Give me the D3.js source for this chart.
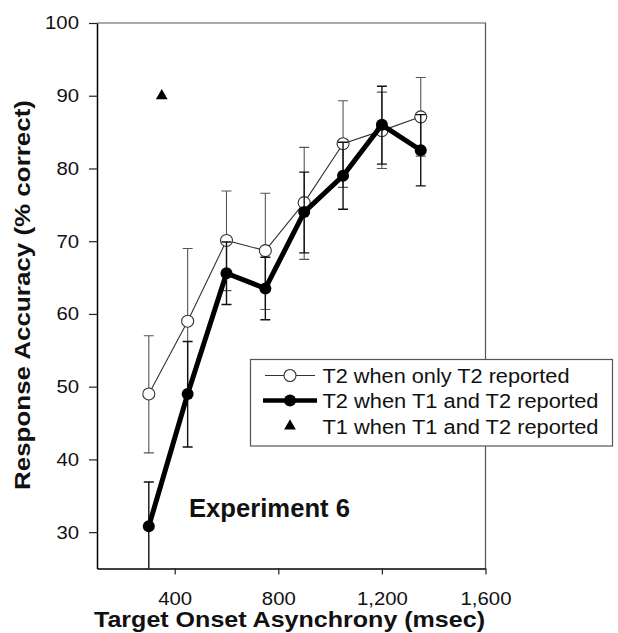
<!DOCTYPE html>
<html><head><meta charset="utf-8">
<script src="https://cdn.jsdelivr.net/npm/d3@7/dist/d3.min.js"></script>
<style>body{margin:0;background:#fff}svg{display:block;font-family:"Liberation Sans",Arial,Helvetica,sans-serif}</style>
</head><body><svg id="c" width="618" height="633"></svg>
<script>
// Data
const toa = [300, 450, 600, 750, 900, 1050, 1200, 1350];
const t2Only   = [49.0, 59.0, 70.1, 68.7, 75.3, 83.4, 85.2, 87.1];
const t2OnlyLo = [40.9, 49.0, 63.2, 60.6, 67.5, 77.4, 80.0, 81.7];
const t2OnlyHi = [57.0, 69.0, 76.9, 76.6, 82.9, 89.3, 90.5, 92.5];
const t2Both   = [30.8, 49.0, 65.6, 63.5, 74.0, 79.0, 86.0, 82.5];
const t2BothLo = [24.7, 41.7, 61.3, 59.2, 68.4, 74.4, 80.6, 77.6];
const t2BothHi = [36.9, 56.2, 69.9, 67.8, 79.5, 83.6, 91.3, 87.4];
const t1Toa = [350];
const t1Both = [90];
const xTicks = [400, 800, 1200, 1600];
const yTicks = [30, 40, 50, 60, 70, 80, 90, 100];
const legendLabels = ["T2 when only T2 reported", "T2 when T1 and T2 reported", "T1 when T1 and T2 reported"];
const xTitle = "Target Onset Asynchrony (msec)";
const yTitle = "Response Accuracy (% correct)";
const note = "Experiment 6";

const W = 618, H = 633;
const m = {l: 97, r: 132.5, t: 23, b: 64.5};
const svg = d3.select("#c");
const x = d3.scaleLinear().domain([100, 1600]).range([m.l, W - m.r]);
const y = d3.scaleLinear().domain([25, 100]).range([H - m.b, m.t]);

function stretch(sel, k) {
  sel.each(function(){ const L = this.getComputedTextLength(); d3.select(this).attr("textLength", L * k).attr("lengthAdjust", "spacingAndGlyphs"); });
}

svg.append("defs").append("clipPath").attr("id", "pc").append("rect")
  .attr("x", m.l).attr("y", m.t).attr("width", W - m.r - m.l).attr("height", H - m.b - m.t);

// frame top/right
svg.append("path").attr("d", `M${x(100)},${y(100)}H${x(1600)}V${y(25)}`).attr("fill", "none").attr("stroke", "#555").attr("stroke-width", 1.2);

// axes
const ax = svg.append("g").attr("transform", `translate(0,${y(25)})`)
  .call(d3.axisBottom(x).tickValues(xTicks).tickFormat(d3.format(",")).tickSize(6).tickPadding(17).tickSizeOuter(0));
const ay = svg.append("g").attr("transform", `translate(${x(100)},0)`)
  .call(d3.axisLeft(y).tickValues(yTicks).tickSize(8).tickPadding(10).tickSizeOuter(0));
[ax, ay].forEach(a => {
  a.select(".domain").attr("stroke", "#000").attr("stroke-width", 1.5);
  a.selectAll(".tick line").attr("stroke", "#222").attr("stroke-width", 1.2);
  a.selectAll(".tick text").attr("font-size", 18.5).attr("fill", "#111").attr("font-family", "Liberation Sans, Arial, sans-serif");
  stretch(a.selectAll(".tick text"), 1.1);
});

const plot = svg.append("g").attr("clip-path", "url(#pc)");
const capW = 5;
function errBars(g, lo, hi, color, sw) {
  const eg = g.append("g").attr("stroke", color).attr("stroke-width", sw).attr("fill", "none");
  eg.selectAll("path").data(toa).join("path")
    .attr("d", (d, i) => `M${x(d)},${y(lo[i])}V${y(hi[i])}M${x(d)-capW},${y(lo[i])}H${x(d)+capW}M${x(d)-capW},${y(hi[i])}H${x(d)+capW}`);
}
const line = d3.line().x((d, i) => x(toa[i])).y(d => y(d));

// Series 1: T2 when only T2 reported (open)
errBars(plot, t2OnlyLo, t2OnlyHi, "#555", 1.1);
plot.append("path").datum(t2Only).attr("d", line).attr("fill", "none").attr("stroke", "#333").attr("stroke-width", 1.1);
plot.selectAll("circle.open").data(t2Only).join("circle").attr("class", "open")
  .attr("cx", (d, i) => x(toa[i])).attr("cy", d => y(d)).attr("r", 6)
  .attr("fill", "#fff").attr("stroke", "#333").attr("stroke-width", 1.1);

// Series 2: T2 when T1 and T2 reported (filled)
errBars(plot, t2BothLo, t2BothHi, "#111", 1.4);
plot.append("path").datum(t2Both).attr("d", line).attr("fill", "none").attr("stroke", "#000").attr("stroke-width", 5).attr("stroke-linejoin", "round");
plot.selectAll("circle.fill").data(t2Both).join("circle").attr("class", "fill")
  .attr("cx", (d, i) => x(toa[i])).attr("cy", d => y(d)).attr("r", 6).attr("fill", "#000");

// Series 3: T1 (triangle)
const tri = d3.symbol().type(d3.symbolTriangle).size(60);
plot.selectAll("path.tri").data(t1Both).join("path").attr("class", "tri")
  .attr("transform", (d, i) => `translate(${x(t1Toa[i])},${y(d)})`).attr("d", tri).attr("fill", "#000");

// Experiment label
svg.append("text").attr("x", 189).attr("y", 516.5).attr("font-size", 25).attr("font-weight", "bold")
  .attr("fill", "#111").attr("textLength", 161).attr("lengthAdjust", "spacingAndGlyphs").text(note);

// Legend
const lg = svg.append("g");
lg.append("rect").attr("x", 250.5).attr("y", 359.5).attr("width", 362).attr("height", 86.5)
  .attr("fill", "#fff").attr("stroke", "#555").attr("stroke-width", 1.2);
const rows = [375.5, 400.5, 426];
const lw = [247, 276, 276];
const sx0 = 265, sx1 = 315, sc = 290;
lg.append("line").attr("x1", sx0).attr("x2", sx1).attr("y1", rows[0]).attr("y2", rows[0]).attr("stroke", "#333").attr("stroke-width", 1.1);
lg.append("circle").attr("cx", sc).attr("cy", rows[0]).attr("r", 6).attr("fill", "#fff").attr("stroke", "#333").attr("stroke-width", 1.1);
lg.append("line").attr("x1", sx0 - 2).attr("x2", sx1 + 2).attr("y1", rows[1]).attr("y2", rows[1]).attr("stroke", "#000").attr("stroke-width", 4.5);
lg.append("circle").attr("cx", sc).attr("cy", rows[1]).attr("r", 6).attr("fill", "#000");
lg.append("path").attr("transform", `translate(${sc},${rows[2]})`).attr("d", tri).attr("fill", "#000");
lg.selectAll("text").data(legendLabels).join("text")
  .attr("x", 322.5).attr("y", (d, i) => rows[i] + 7.5).attr("font-size", 19.5).attr("fill", "#111")
  .attr("textLength", (d, i) => lw[i]).attr("lengthAdjust", "spacingAndGlyphs").text(d => d);

// Axis titles
svg.append("text").attr("x", 94).attr("y", 627).attr("font-size", 22).attr("font-weight", "bold").attr("fill", "#111")
  .attr("textLength", 391).attr("lengthAdjust", "spacingAndGlyphs").text(xTitle);
svg.append("text").attr("transform", "translate(29.5,490) rotate(-90)").attr("font-size", 22).attr("font-weight", "bold").attr("fill", "#111")
  .attr("textLength", 390).attr("lengthAdjust", "spacingAndGlyphs").text(yTitle);
</script></body></html>
